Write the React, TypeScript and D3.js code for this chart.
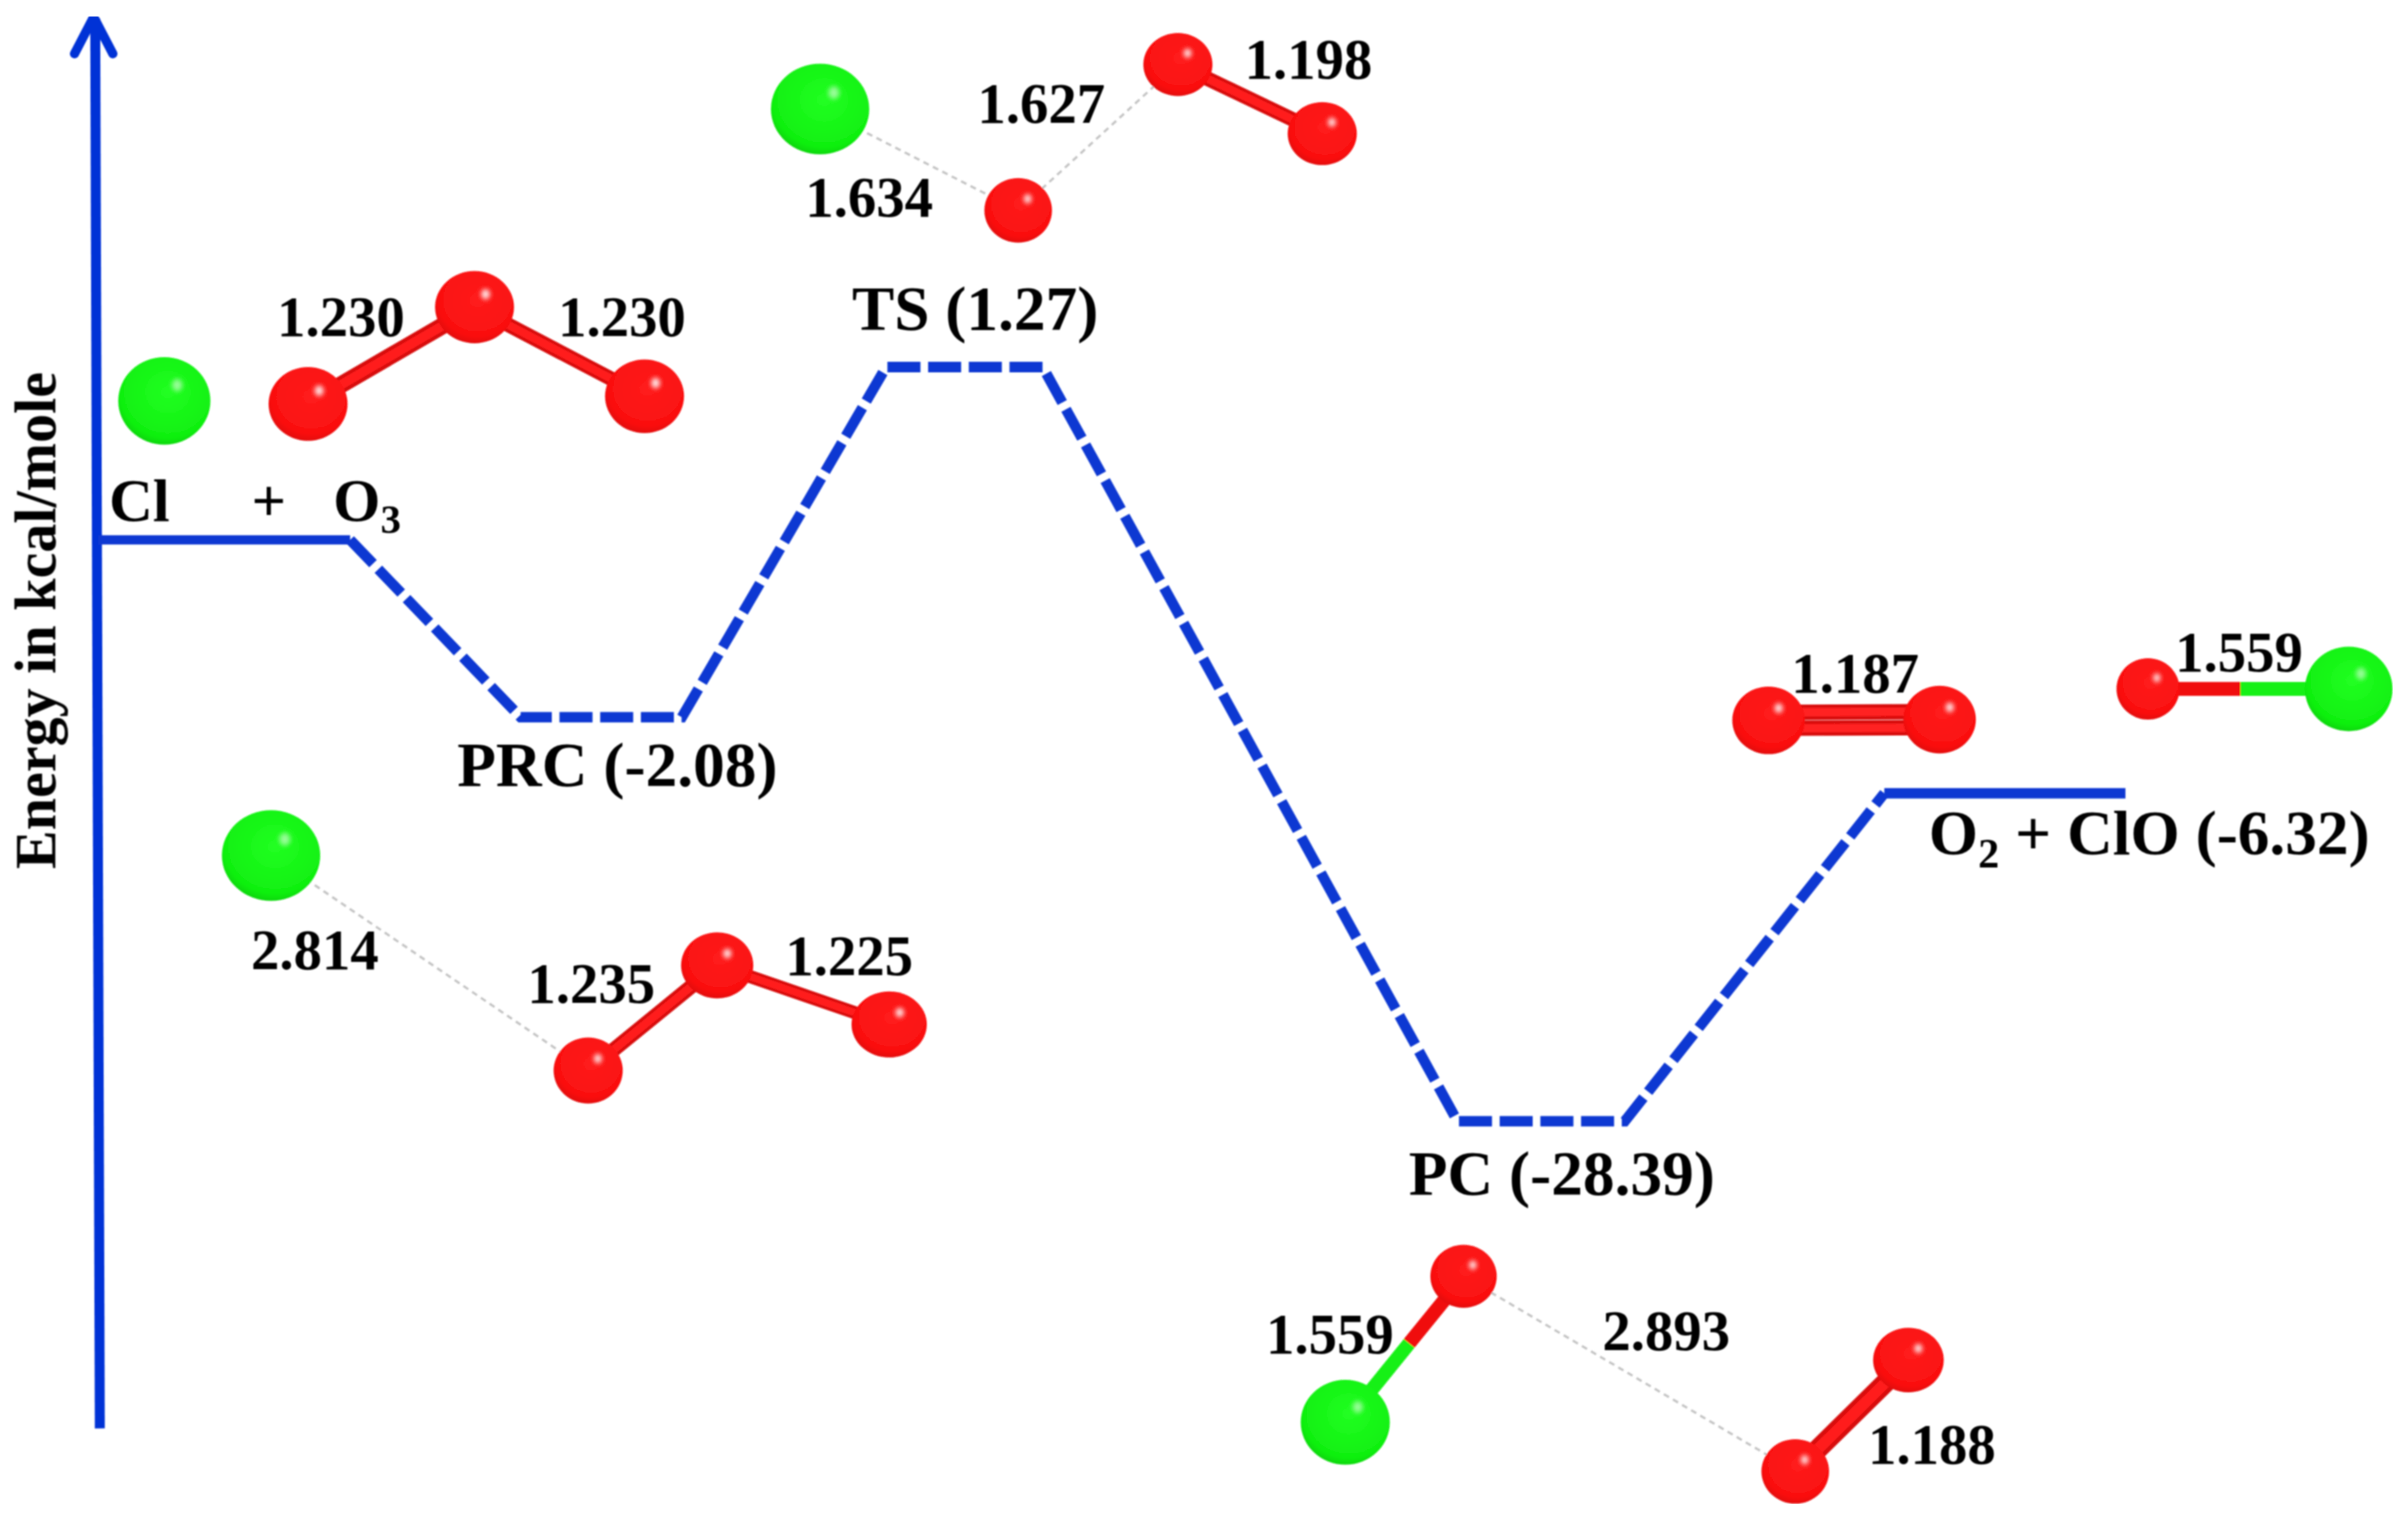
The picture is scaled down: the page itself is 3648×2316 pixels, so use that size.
import React from "react";
import * as d3 from "d3";

const W = 3648;
const H = 2316;
const PIC_W = 1568;
const PIC_H = 995.5;

// Energy levels (kcal/mole); the drawing is not to scale, so the y scale is piecewise.
const stateNames = ["Cl + O3", "PRC", "TS", "PC", "O2 + ClO"];
const stateEnergies = [0, -2.08, 1.27, -28.39, -6.32];
const stateStart = [64, 339, 577, 949, 1227];
const stateEnd = [228, 444, 679, 1058, 1384];
const energyDomain = [-28.39, -6.32, -2.08, 0, 1.27];
const energyRange = [730, 516.5, 467, 351.5, 239];

const yAxisLabel = "Energy in kcal/mole";

// Atoms: element, centre and radii in picture units
type Atom = [string, number, number, number, number];
const atoms: Atom[] = [
  ["Cl", 107, 261, 30, 28.5],
  ["O", 200.6, 263, 25.7, 24],
  ["O", 309, 200, 25.7, 23.5],
  ["O", 419.7, 258, 25.7, 24],
  ["Cl", 534, 71, 32, 29.5],
  ["O", 663, 137, 22, 21],
  ["O", 767, 42, 22.5, 20.5],
  ["O", 861, 87, 22.5, 20.5],
  ["Cl", 176.5, 557, 32, 29.5],
  ["O", 383, 697, 22.5, 21.5],
  ["O", 467, 628.5, 23.5, 21.5],
  ["O", 579, 667, 24.5, 21.5],
  ["O", 1151.6, 469, 23.6, 22],
  ["O", 1263, 468.5, 23.6, 22],
  ["O", 1398.7, 448.5, 20.5, 20],
  ["Cl", 1529.4, 448.5, 28.5, 27.5],
  ["O", 953, 831, 21.6, 20.5],
  ["Cl", 876, 926, 29, 27.6],
  ["O", 1242.7, 885.5, 23, 21],
  ["O", 1169, 958, 22, 21],
];
// Bonds: atom index a, atom index b, width
const redBonds: [number, number, number][] = [
  [1, 2, 11],
  [2, 3, 9.5],
  [6, 7, 9.5],
  [9, 10, 9.5],
  [10, 11, 8.5],
  [18, 19, 13],
];
const doubleBonds: [number, number, number][] = [[12, 13, 10]];
const mixedBonds: [number, number, number][] = [
  [14, 15, 9],
  [16, 17, 9],
];
const dottedBonds: [number, number][] = [
  [4, 5],
  [5, 6],
  [8, 9],
  [16, 19],
];

// Text labels: text, x, baseline
const bondLabels: [string, number, number][] = [
  ["1.230", 222, 219],
  ["1.230", 405, 219],
  ["1.627", 678, 80],
  ["1.198", 852, 51],
  ["1.634", 566, 141],
  ["2.814", 205, 631],
  ["1.235", 385, 653],
  ["1.225", 553, 635],
  ["1.187", 1208, 451],
  ["1.559", 1458, 437],
  ["1.559", 866, 881],
  ["2.893", 1085, 879],
  ["1.188", 1258, 953],
];
const stateLabels: [string, number, number][] = [
  ["TS (1.27)", 635, 215],
  ["PRC (-2.08)", 402, 512],
  ["PC (-28.39)", 1017, 778],
];

const sx = d3.scaleLinear().domain([0, PIC_W]).range([0, W]);
const sy = d3.scaleLinear().domain([0, PIC_H]).range([0, H]);
const yEnergy = d3.scaleLinear().domain(energyDomain).range(energyRange);
const k = W / PIC_W;

const SERIF = "'Liberation Serif', serif";

function Sphere({ a }: { a: Atom }) {
  const [el, x, y, rx, ry] = a;
  return (
    <g>
      <ellipse cx={sx(x)} cy={sy(y)} rx={rx * k} ry={ry * k} fill={`url(#${el === "Cl" ? "green" : "red"})`} />
      <ellipse
        cx={sx(x + rx * 0.28)}
        cy={sy(y - ry * 0.36)}
        rx={rx * k * 0.11}
        ry={ry * k * 0.14}
        fill="#fff"
        opacity={el === "Cl" ? 0.55 : 0.9}
        filter="url(#soft)"
      />
    </g>
  );
}

function T({ x, y, size, children, anchor = "middle" }: any) {
  return (
    <text x={sx(x)} y={sy(y)} fontSize={size} textAnchor={anchor} fontFamily={SERIF} fontWeight="bold" fill="#000">
      {children}
    </text>
  );
}

export default function App() {
  const levelPts: [number, number][] = [];
  stateEnergies.forEach((e, i) => {
    levelPts.push([stateStart[i], yEnergy(e)]);
    levelPts.push([stateEnd[i], yEnergy(e)]);
  });
  const line = d3
    .line<[number, number]>()
    .x((d) => sx(d[0]))
    .y((d) => sy(d[1]));
  const dashedPts = levelPts.slice(1, levelPts.length - 1);
  const bondLine = (i: number, j: number) => ({
    x1: sx(atoms[i][1]),
    y1: sy(atoms[i][2]),
    x2: sx(atoms[j][1]),
    y2: sy(atoms[j][2]),
  });
  return (
    <svg
      width={W}
      height={H}
      viewBox={`0 0 ${W} ${H}`}
      style={{ position: "absolute", left: 0, top: 0, background: "#fff" }}
    >
      <defs>
        <radialGradient id="red" cx="0.54" cy="0.4" r="0.7">
          <stop offset="0" stopColor="#ff1c1c" />
          <stop offset="0.72" stopColor="#fa1010" />
          <stop offset="0.9" stopColor="#dc0808" />
          <stop offset="1" stopColor="#a80000" />
        </radialGradient>
        <radialGradient id="green" cx="0.54" cy="0.4" r="0.7">
          <stop offset="0" stopColor="#22ff22" />
          <stop offset="0.74" stopColor="#10f010" />
          <stop offset="0.9" stopColor="#0cd00c" />
          <stop offset="1" stopColor="#009000" />
        </radialGradient>
        <filter id="soft" x="-100%" y="-100%" width="300%" height="300%">
          <feGaussianBlur stdDeviation="3.5" />
        </filter>
        <filter id="upscale" x="0" y="0" width="100%" height="100%">
          <feGaussianBlur stdDeviation="1.2" />
        </filter>
      </defs>

      <g filter="url(#upscale)">
        {/* axis */}
        <g stroke="#0033d6" fill="none" strokeLinecap="round" strokeLinejoin="miter">
          <path d={line([[65, 930], [62, 12]])!} strokeWidth={6.5 * k} strokeLinecap="butt" />
          <path d={line([[48.5, 35], [61, 11], [73.5, 35]])!} strokeWidth={6 * k} />
        </g>

        {/* energy profile */}
        <g stroke="#0a37d2" fill="none">
          <path d={line(levelPts.slice(0, 2))!} strokeWidth={6 * k} />
          <path d={line(dashedPts)!} strokeWidth={6.8 * k} strokeDasharray={`${21.5 * k} ${5 * k}`} />
          <path d={line(levelPts.slice(-2))!} strokeWidth={6.8 * k} />
        </g>

        {/* dotted contacts */}
        {dottedBonds.map(([a, b], i) => (
          <line key={i} {...bondLine(a, b)} stroke="#c4c4c4" strokeWidth={3.5} strokeDasharray="9 7" />
        ))}

        {/* bonds */}
        {redBonds.map(([a, b, w], i) => (
          <g key={i}>
            <line {...bondLine(a, b)} stroke="#d81010" strokeWidth={w * k} />
            <line {...bondLine(a, b)} stroke="#ff1c1c" strokeWidth={w * k * 0.55} />
          </g>
        ))}
        {doubleBonds.map(([a, b, w], i) => {
          const l = bondLine(a, b);
          return (
            <g key={i}>
              {[-1, 1].map((s) => (
                <g key={s}>
                  <line {...l} y1={l.y1 + s * w * k * 0.52} y2={l.y2 + s * w * k * 0.52} stroke="#d81010" strokeWidth={w * k} />
                  <line {...l} y1={l.y1 + s * w * k * 0.52} y2={l.y2 + s * w * k * 0.52} stroke="#ff2020" strokeWidth={w * k * 0.55} />
                </g>
              ))}
            </g>
          );
        })}
        {mixedBonds.map(([a, b, w], i) => {
          const l = bondLine(a, b);
          const mx = l.x1 + (l.x2 - l.x1) * 0.46;
          const my = l.y1 + (l.y2 - l.y1) * 0.46;
          return (
            <g key={i}>
              <line x1={l.x1} y1={l.y1} x2={mx} y2={my} stroke="#f01010" strokeWidth={w * k} />
              <line x1={mx} y1={my} x2={l.x2} y2={l.y2} stroke="#12f012" strokeWidth={w * k} />
            </g>
          );
        })}

        {/* atoms */}
        {atoms.map((a, i) => (
          <Sphere key={i} a={a} />
        ))}

        {/* bond-length labels */}
        {bondLabels.map(([t, x, y], i) => (
          <T key={i} x={x} y={y} size={86}>
            {t}
          </T>
        ))}

        {/* state labels */}
        {stateLabels.map(([t, x, y], i) => (
          <T key={i} x={x} y={y} size={96}>
            {t}
          </T>
        ))}
        <T x={71} y={339} size={92} anchor="start">Cl</T>
        <T x={175} y={339} size={92}>+</T>
        <T x={217} y={339} size={92} anchor="start">
          O<tspan fontSize={62} dy={18}>3</tspan>
        </T>
        <T x={1256} y={556} size={96} anchor="start">
          O<tspan fontSize={64} dy={20}>2</tspan>
          <tspan dy={-20}> + ClO (-6.32)</tspan>
        </T>
        <text
          transform={`translate(${sx(36)},${sy(404)}) rotate(-90)`}
          fontSize={88}
          textAnchor="middle"
          fontFamily={SERIF}
          fontWeight="bold"
          fill="#000"
        >
          {yAxisLabel}
        </text>
      </g>
    </svg>
  );
}
